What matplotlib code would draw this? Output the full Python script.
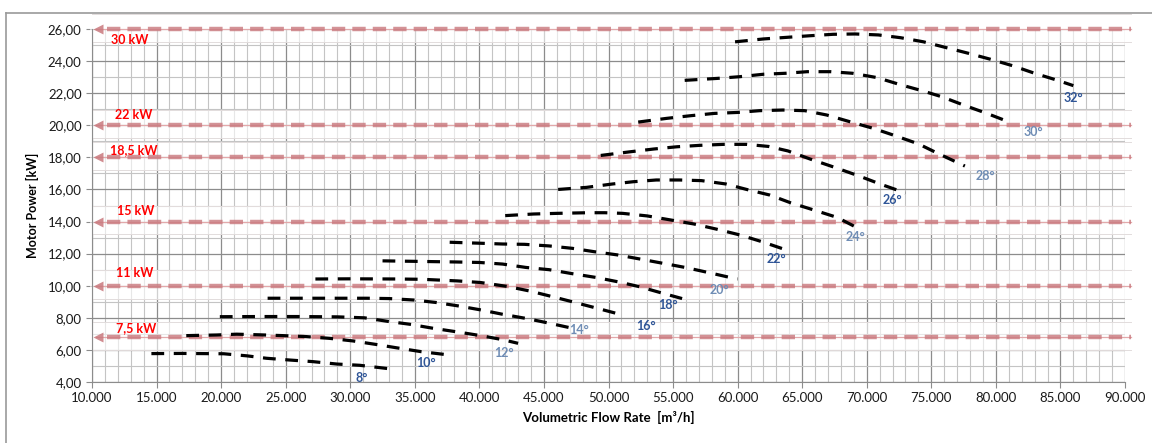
import matplotlib
matplotlib.use('Agg')
import matplotlib.pyplot as plt
from matplotlib.lines import Line2D
from matplotlib.ticker import MultipleLocator, FuncFormatter

plt.rcParams['font.family'] = ['Lato', 'DejaVu Sans']

# fan curves: flow [m3/h] and motor power [kW] per blade angle
flow_08 = [14600, 17000, 20200, 22000, 23500, 25300, 27100, 28950, 30750, 33300]
power_08 = [5.77, 5.78, 5.76, 5.63, 5.48, 5.37, 5.27, 5.12, 5.04, 4.8]

flow_10 = [17300, 19650, 21200, 23000, 24800, 26600, 28400, 30200, 32000, 33600, 35500, 37700]
power_10 = [6.89, 6.93, 6.98, 6.94, 6.89, 6.83, 6.72, 6.56, 6.34, 6.13, 5.89, 5.68]

flow_12 = [19900, 23000, 26000, 29000, 31100, 32900, 34600, 36400, 38300, 40100, 41800, 43000]
power_12 = [8.07, 8.08, 8.08, 8.06, 8.0, 7.78, 7.6, 7.35, 7.12, 6.89, 6.64, 6.41]

flow_14 = [23600, 26000, 29000, 31300, 33000, 34900, 36600, 38300, 40200, 41800, 43700, 45500, 47200]
power_14 = [9.22, 9.22, 9.22, 9.22, 9.2, 9.11, 8.96, 8.75, 8.48, 8.22, 7.95, 7.65, 7.35]

flow_16 = [27300, 30000, 33600, 35600, 38300, 40100, 42200, 43900, 45500, 47200, 49000, 50600]
power_16 = [10.42, 10.43, 10.42, 10.4, 10.3, 10.2, 9.95, 9.67, 9.35, 9.0, 8.62, 8.28]

flow_18 = [32500, 35000, 38200, 40000, 41800, 43600, 45400, 47200, 49000, 50700, 52400, 54200, 55700]
power_18 = [11.55, 11.52, 11.48, 11.45, 11.35, 11.14, 11.0, 10.75, 10.52, 10.25, 9.94, 9.53, 9.2]

flow_20 = [37700, 40000, 41800, 43500, 45400, 47200, 48900, 50700, 52400, 54200, 56000, 57800, 59500, 60000]
power_20 = [12.71, 12.65, 12.6, 12.58, 12.48, 12.33, 12.12, 11.92, 11.67, 11.4, 11.13, 10.81, 10.5, 10.42]

flow_22 = [42000, 44200, 46000, 48400, 49700, 51100, 53000, 54800, 56600, 58400, 60200, 61900, 63400, 63900]
power_22 = [14.37, 14.47, 14.51, 14.55, 14.55, 14.51, 14.35, 14.1, 13.85, 13.52, 13.16, 12.74, 12.33, 12.2]

flow_24 = [46100, 48300, 50300, 51900, 53700, 55500, 57200, 59100, 60700, 62500, 64100, 65900, 67700, 69000, 69500]
power_24 = [16.0, 16.13, 16.34, 16.48, 16.59, 16.59, 16.55, 16.34, 16.0, 15.65, 15.17, 14.72, 14.26, 13.72, 13.6]

flow_26 = [49400, 51700, 53500, 55300, 57100, 58900, 60700, 62400, 63900, 65600, 67500, 69400, 71100, 73000]
power_26 = [18.12, 18.35, 18.52, 18.66, 18.75, 18.81, 18.81, 18.68, 18.4, 17.9, 17.38, 16.84, 16.32, 15.78]

flow_28 = [52300, 54500, 56400, 58200, 60000, 61700, 63500, 65200, 66900, 68700, 70500, 72200, 74000, 75500, 77600]
power_28 = [20.2, 20.43, 20.6, 20.74, 20.8, 20.91, 20.95, 20.91, 20.64, 20.22, 19.81, 19.35, 18.84, 18.25, 17.46]

flow_30 = [55900, 58400, 60200, 62000, 63700, 65400, 67200, 68900, 70800, 72600, 74300, 75800, 77500, 79300, 81200]
power_30 = [22.8, 22.92, 23.03, 23.18, 23.24, 23.34, 23.34, 23.24, 22.97, 22.53, 22.15, 21.78, 21.26, 20.74, 20.15]

flow_32 = [59800, 62000, 63800, 65600, 67400, 69100, 70900, 72600, 74400, 76200, 77900, 79600, 81300, 83000, 84700, 86000]
power_32 = [25.2, 25.38, 25.48, 25.58, 25.67, 25.69, 25.63, 25.46, 25.2, 24.83, 24.48, 24.11, 23.71, 23.24, 22.82, 22.47]

angle_labels = ['8°', '10°', '12°', '14°', '16°', '18°', '20°', '22°', '24°', '26°', '28°', '30°', '32°']

# motor size limits
motor_levels = [26.0, 20.0, 18.0, 14.0, 10.0, 6.8]
motor_labels = ['30 kW', '22 kW', '18,5 kW', '15 kW', '11 kW', '7,5 kW']

curves = [(flow_08, power_08), (flow_10, power_10), (flow_12, power_12), (flow_14, power_14),
          (flow_16, power_16), (flow_18, power_18), (flow_20, power_20), (flow_22, power_22),
          (flow_24, power_24), (flow_26, power_26), (flow_28, power_28), (flow_30, power_30),
          (flow_32, power_32)]

# where the angle tags sit (data coords) and how strong they print
angle_label_pos = [(30900, 4.27), (35900, 5.2), (41900, 5.83), (47700, 7.24), (52900, 7.5),
                   (54600, 8.8), (58600, 9.73), (63000, 11.67), (69100, 13.06), (72000, 15.34),
                   (79200, 16.86), (82900, 19.56), (86000, 21.72)]
faded = {'12°', '14°', '20°', '24°', '28°', '30°'}
motor_label_dy = [-0.69, 0.66, 0.45, 0.68, 0.79, 0.57]
motor_label_x = [11470, 11780, 11400, 11940, 11830, 11830]

fig = plt.figure(figsize=(11.52, 4.43), dpi=100)
ax = fig.add_axes([92 / 1152, 1 - 382 / 443, (1125 - 92) / 1152, (382 - 29) / 443])

ax.set_xlim(10000, 90000)
ax.set_ylim(4, 26)
ax.xaxis.set_major_locator(MultipleLocator(5000))
ax.xaxis.set_minor_locator(MultipleLocator(1000))
ax.yaxis.set_major_locator(MultipleLocator(2))
ax.yaxis.set_minor_locator(MultipleLocator(1))
ax.xaxis.set_major_formatter(FuncFormatter(lambda v, p: f'{int(v):,}'.replace(',', '.')))
ax.yaxis.set_major_formatter(FuncFormatter(lambda v, p: f'{v:.2f}'.replace('.', ',')))
ax.set_axisbelow(True)
ax.grid(which='major', color='#8c8c8c', lw=0.9)
ax.grid(which='minor', color='#c4c4c4', lw=0.8)
ax.tick_params(which='major', direction='out', length=4, color='#8c8c8c', labelsize=9.5,
               labelcolor='#1a1a1a')
ax.tick_params(which='minor', length=0)
for s in ['top', 'right']:
    ax.spines[s].set_visible(False)
for s in ['left', 'bottom']:
    ax.spines[s].set_color('#8c8c8c')

ax.set_xlabel('Volumetric Flow Rate  [m³/h]', fontsize=9.5, fontweight='bold', labelpad=5)
ax.set_ylabel('Motor Power [kW]', fontsize=9, fontweight='bold', labelpad=6)

# motor limit bands
for lvl, lab, dy, lx in zip(motor_levels, motor_labels, motor_label_dy, motor_label_x):
    ax.axhspan(lvl - 0.8, lvl + 0.95, xmin=-0.002, xmax=1.006, facecolor='white',
               alpha=0.6, edgecolor='none', zorder=1, clip_on=False)
    for edge in (lvl - 0.8, lvl + 0.95):
        ax.plot([10000, 90500], [edge, edge], color='#e2dcdc', lw=0.7, zorder=1.1, clip_on=False)
    ax.plot([10300, 90500], [lvl, lvl], color='#e2a9ab', lw=0.9, zorder=1.2, clip_on=False)
    ax.plot([11200, 90500], [lvl, lvl], color='#c9787d', lw=3.2, alpha=0.8,
            dashes=(3.0, 1.6), zorder=1.3, clip_on=False, solid_capstyle='butt')
    ax.plot([10450], [lvl], marker='<', ms=7, color='#c9787d', alpha=0.85, zorder=1.3,
            clip_on=False, mec='none')
    ax.text(lx, lvl + dy, lab, color='#ff0000', fontsize=9, fontweight='bold',
            ha='left', va='center', zorder=5)

# fan curves
for (q, p), lab, (tx, ty) in zip(curves, angle_labels, angle_label_pos):
    ax.plot(q, p, color='black', lw=2.3, dashes=(4.0, 3.0), zorder=4, dash_capstyle='butt')
    ax.text(tx, ty, lab, color='#6f8db5' if lab in faded else '#2f5597', fontsize=9,
            fontweight='bold', ha='center', va='center', zorder=5)

# chart-area border, as in the spreadsheet export
fig.add_artist(Line2D([6 / 1152, 1.0], [1 - 12.5 / 443] * 2, color='#9a9a9a', lw=1.2))
fig.add_artist(Line2D([6 / 1152] * 2, [0.0, 1 - 12.5 / 443], color='#9a9a9a', lw=1.2))

fig.savefig('out.png', dpi=100)
